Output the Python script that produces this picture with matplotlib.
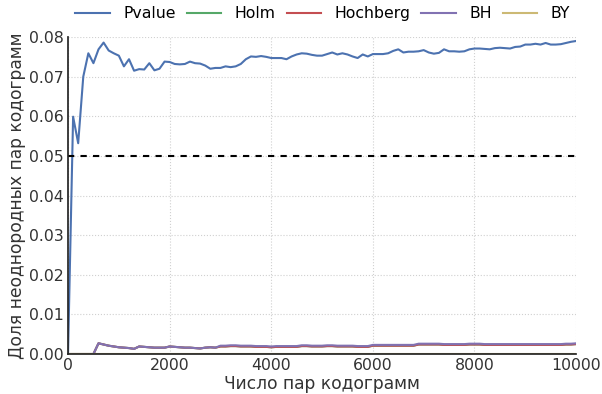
import numpy as np
import matplotlib
matplotlib.use('Agg')
import matplotlib.pyplot as plt

# x: number of codogram pairs, step 100
pairs = np.arange(0, 10001, 100)

pvalue = [0.0, 0.0599, 0.0532, 0.0700, 0.0759, 0.0734, 0.0769, 0.0786, 0.0766, 0.0759,
          0.0753, 0.0726, 0.0744, 0.0715, 0.0719, 0.0718, 0.0734, 0.0716, 0.0720, 0.0738,
          0.0737, 0.0732, 0.0731, 0.0732, 0.0738, 0.0734, 0.0733, 0.0728, 0.0720, 0.0722,
          0.0722, 0.0726, 0.0724, 0.0726, 0.0732, 0.0744, 0.0751, 0.0750, 0.0752, 0.0750,
          0.0747, 0.0747, 0.0747, 0.0744, 0.0751, 0.0756, 0.0759, 0.0758, 0.0755, 0.0753,
          0.0753, 0.0757, 0.0761, 0.0756, 0.0759, 0.0756, 0.0751, 0.0747, 0.0756, 0.0751,
          0.0757, 0.0757, 0.0757, 0.0759, 0.0765, 0.0769, 0.0761, 0.0763, 0.0763, 0.0764,
          0.0767, 0.0761, 0.0758, 0.0760, 0.0769, 0.0764, 0.0764, 0.0763, 0.0764, 0.0769,
          0.0771, 0.0771, 0.0770, 0.0769, 0.0772, 0.0773, 0.0772, 0.0771, 0.0775, 0.0776,
          0.0781, 0.0781, 0.0783, 0.0781, 0.0785, 0.0781, 0.0781, 0.0782, 0.0785, 0.0788,
          0.0790]

bh = [0, 0, 0, 0, 0, 0, 0.0027, 0.0024, 0.0021, 0.0019,
      0.0017, 0.0016, 0.0015, 0.0013, 0.0019, 0.0018, 0.0017, 0.0016, 0.0016, 0.0016,
      0.0019, 0.0018, 0.0017, 0.0016, 0.0016, 0.0015, 0.0014, 0.0016, 0.0017, 0.0016,
      0.0021, 0.0021, 0.0022, 0.0022, 0.0021, 0.0021, 0.0021, 0.0020, 0.0020, 0.0020,
      0.0019, 0.0020, 0.0020, 0.0020, 0.0020, 0.0020, 0.0022, 0.0022, 0.0021, 0.0021,
      0.0021, 0.0022, 0.0022, 0.0021, 0.0021, 0.0021, 0.0021, 0.0020, 0.0020, 0.0020,
      0.0023, 0.0023, 0.0023, 0.0023, 0.0023, 0.0023, 0.0023, 0.0023, 0.0023, 0.0026,
      0.0026, 0.0026, 0.0026, 0.0026, 0.0025, 0.0025, 0.0025, 0.0025, 0.0025, 0.0026,
      0.0026, 0.0026, 0.0025, 0.0025, 0.0025, 0.0025, 0.0025, 0.0025, 0.0025, 0.0025,
      0.0025, 0.0025, 0.0025, 0.0025, 0.0025, 0.0025, 0.0025, 0.0025, 0.0026, 0.0026,
      0.0027]

hochberg = [0, 0, 0, 0, 0, 0, 0.0027, 0.0024, 0.0021, 0.0019,
            0.0017, 0.0016, 0.0015, 0.0013, 0.0019, 0.0018, 0.0017, 0.0016, 0.0016, 0.0016,
            0.0019, 0.0018, 0.0017, 0.0016, 0.0016, 0.0015, 0.0014, 0.0016, 0.0017, 0.0016,
            0.0019, 0.0019, 0.0020, 0.0020, 0.0019, 0.0019, 0.0019, 0.0018, 0.0018, 0.0018,
            0.0017, 0.0018, 0.0018, 0.0018, 0.0018, 0.0018, 0.0020, 0.0020, 0.0019, 0.0019,
            0.0019, 0.0020, 0.0020, 0.0019, 0.0019, 0.0019, 0.0019, 0.0018, 0.0018, 0.0018,
            0.0021, 0.0021, 0.0021, 0.0021, 0.0021, 0.0021, 0.0021, 0.0021, 0.0021, 0.0024,
            0.0024, 0.0024, 0.0024, 0.0024, 0.0023, 0.0023, 0.0023, 0.0023, 0.0023, 0.0024,
            0.0024, 0.0024, 0.0023, 0.0023, 0.0023, 0.0023, 0.0023, 0.0023, 0.0023, 0.0023,
            0.0023, 0.0023, 0.0023, 0.0023, 0.0023, 0.0023, 0.0023, 0.0023, 0.0024, 0.0024,
            0.0025]

holm = hochberg
by = [0.0] * len(pairs)

threshold = 0.05

plt.rcParams['font.family'] = ['DejaVu Sans']
fig = plt.figure(figsize=(6.02, 3.94), dpi=100)
ax = fig.add_axes([0.113, 0.1015, 0.844, 0.8045])

ax.plot(pairs, pvalue, color='#4C72B0', linewidth=1.5, label='Pvalue')
ax.plot(pairs, holm, color='#55A868', linewidth=1.5, label='Holm')
ax.plot(pairs, hochberg, color='#C44E52', linewidth=1.5, label='Hochberg')
ax.plot(pairs, bh, color='#8172B2', linewidth=1.5, label='BH')
ax.plot(pairs, by, color='#CCB974', linewidth=1.5, label='BY')
ax.axhline(threshold, color='black', linestyle=(0, (3, 3)), linewidth=1.5)

ax.set_xlim(0, 10000)
ax.set_ylim(0, 0.08)
ax.set_xticks(np.arange(0, 10001, 2000))
ax.set_yticks(np.arange(0, 0.081, 0.01))
ax.set_yticklabels(['%.2f' % v for v in np.arange(0, 0.081, 0.01)])
ax.tick_params(length=0, labelsize=11.3, colors='#333333', pad=3)
ax.grid(True, color='#d0d0d0', linestyle=':', linewidth=0.8)
for s in ['top', 'right']:
    ax.spines[s].set_visible(False)
for s in ['left', 'bottom']:
    ax.spines[s].set_color('#262626')
    ax.spines[s].set_linewidth(1.25)

ax.set_xlabel('Число пар кодограмм', fontsize=12.3, color='#333333', labelpad=1)
ax.set_ylabel('Доля неоднородных пар кодограмм', fontsize=12.3, color='#333333', labelpad=2)

ax.legend(loc='lower left', bbox_to_anchor=(-0.004, 1.02), ncol=5, frameon=False,
          fontsize=11.3, handlelength=2.2, handletextpad=0.85, columnspacing=0.7,
          borderaxespad=0.2)

fig.savefig('out.png', dpi=100)
